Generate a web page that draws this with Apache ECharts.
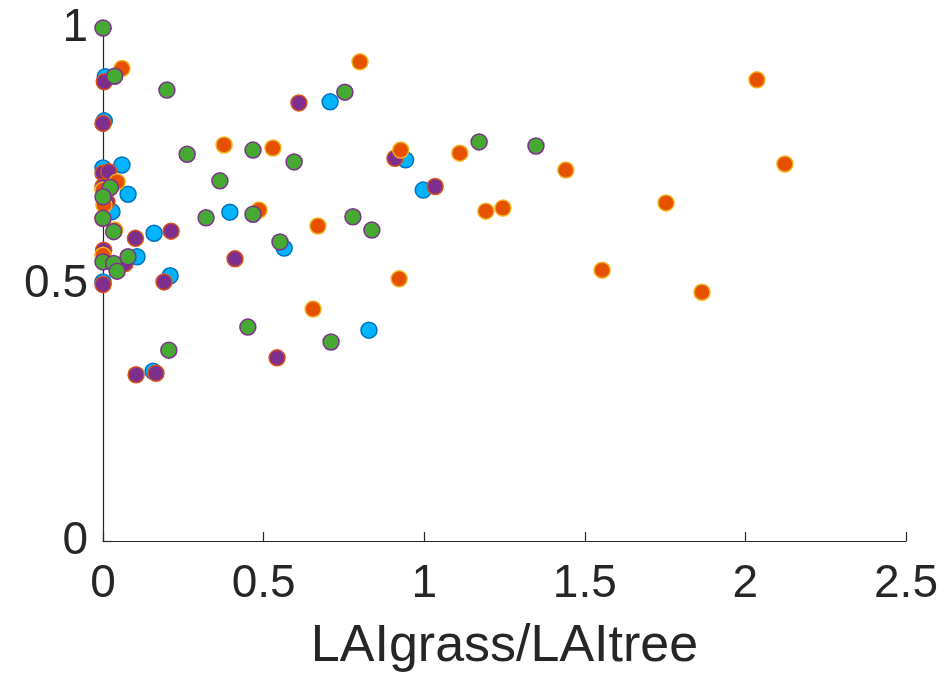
<!DOCTYPE html>
<html>
<head>
<meta charset="utf-8">
<script src="https://cdn.jsdelivr.net/npm/echarts@6/dist/echarts.min.js"></script>
<style>
  html, body { margin: 0; padding: 0; background: #fff; }
  #chart { width: 944px; height: 681px; }
</style>
</head>
<body>
<div id="chart"></div>
<script>
// LAI ratio (grass / tree) against response value, four site groups
const xTicks = [0, 0.5, 1, 1.5, 2, 2.5];
const yTicks = [0, 0.5, 1];

const blueX = [0.007, 0.004, 0.707, 0.059, 0.000, 0.078, 0.942, 0.997, 0.395, 0.159, 0.028, 0.106, 0.209, 0.564, 0.156, 0.828, 0.000];
const blueY = [0.905, 0.819, 0.856, 0.733, 0.727, 0.676, 0.743, 0.684, 0.641, 0.600, 0.642, 0.554, 0.517, 0.571, 0.331, 0.411, 0.505];

const purpleX = [0.004, 0.000, 0.610, 0.909, 1.034, 0.000, 0.018, 0.000, 0.012, 0.000, 0.101, 0.212, 0.002, 0.069, 0.411, 0.190, 0.000, 0.103, 0.165, 0.542];
const purpleY = [0.895, 0.814, 0.854, 0.746, 0.691, 0.717, 0.720, 0.691, 0.661, 0.629, 0.590, 0.604, 0.567, 0.541, 0.550, 0.505, 0.500, 0.324, 0.327, 0.357];

const orangeX = [0.059, 0.800, 2.036, 0.377, 0.529, 0.927, 1.111, 1.441, 2.123, 0.044, 0.486, 1.192, 1.245, 1.753, 0.669, 1.554, 1.865, 0.922, 0.654, 0.000, 0.003, 0.037, 0.000];
const orangeY = [0.921, 0.934, 0.899, 0.772, 0.766, 0.762, 0.756, 0.723, 0.735, 0.700, 0.645, 0.643, 0.649, 0.659, 0.614, 0.528, 0.485, 0.511, 0.452, 0.684, 0.655, 0.606, 0.557];

const greenX = [0.000, 0.036, 0.199, 0.753, 0.262, 0.467, 0.595, 1.171, 1.348, 0.364, 0.023, 0.321, 0.467, 0.778, 0.837, 0.000, 0.000, 0.033, 0.551, 0.000, 0.033, 0.044, 0.078, 0.451, 0.710, 0.205];
const greenY = [1.000, 0.906, 0.879, 0.875, 0.754, 0.762, 0.739, 0.778, 0.770, 0.702, 0.689, 0.630, 0.637, 0.632, 0.606, 0.671, 0.629, 0.603, 0.583, 0.544, 0.541, 0.526, 0.554, 0.417, 0.388, 0.372];

function pairs(xs, ys) {
  return xs.map((x, i) => [x, ys[i]]);
}

const axisColor = '#262626';
const fontFamily = '"Liberation Sans", Arial, Helvetica, sans-serif';

function scatter(name, xs, ys, fill, edge) {
  return {
    name: name,
    type: 'scatter',
    data: pairs(xs, ys),
    symbol: 'circle',
    symbolSize: 16,
    clip: false,
    itemStyle: { color: fill, borderColor: edge, borderWidth: 1.5, opacity: 1 },
    emphasis: { disabled: true }
  };
}

const chart = echarts.init(document.getElementById('chart'), null, { renderer: 'canvas' });
chart.setOption({
  animation: false,
  backgroundColor: '#ffffff',
  grid: { left: 103, right: 38, top: 28, bottom: 140, containLabel: false },
  xAxis: {
    type: 'value',
    min: xTicks[0],
    max: xTicks[xTicks.length - 1],
    interval: 0.5,
    name: 'LAIgrass/LAItree',
    nameLocation: 'middle',
    nameGap: 80,
    nameTextStyle: { fontFamily: fontFamily, fontSize: 52, color: axisColor },
    axisLine: { show: true, onZero: false, lineStyle: { color: axisColor, width: 1.2 } },
    axisTick: { show: true, inside: true, length: 9, lineStyle: { color: axisColor, width: 1.2 } },
    axisLabel: {
      fontFamily: fontFamily, fontSize: 46, color: axisColor, margin: 20,
      showMinLabel: true, showMaxLabel: true,
      formatter: v => String(+v.toFixed(2))
    },
    splitLine: { show: false }
  },
  yAxis: {
    type: 'value',
    min: yTicks[0],
    max: yTicks[yTicks.length - 1],
    interval: 0.5,
    axisLine: { show: true, onZero: false, lineStyle: { color: axisColor, width: 1.2 } },
    axisTick: { show: true, inside: true, length: 9, lineStyle: { color: axisColor, width: 1.2 } },
    axisLabel: {
      fontFamily: fontFamily, fontSize: 46, color: axisColor, margin: 15,
      showMinLabel: true, showMaxLabel: true,
      formatter: v => String(+v.toFixed(2))
    },
    splitLine: { show: false }
  },
  series: [
    scatter('blue', blueX, blueY, '#00b4ff', '#0072bd'),
    scatter('purple', purpleX, purpleY, '#7e2f8e', '#d95319'),
    scatter('orange', orangeX, orangeY, '#e65100', '#f2b21a'),
    scatter('green', greenX, greenY, '#46aa32', '#7e2f8e')
  ]
});
</script>
</body>
</html>
